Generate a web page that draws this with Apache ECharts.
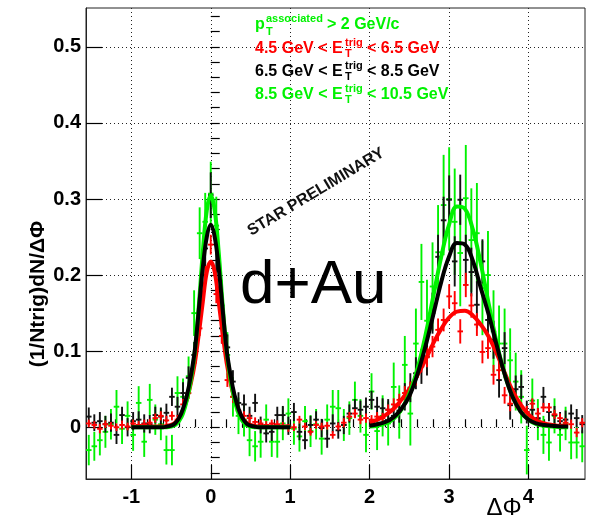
<!DOCTYPE html>
<html>
<head>
<meta charset="utf-8">
<script src="https://cdn.jsdelivr.net/npm/echarts@6/dist/echarts.min.js"></script>
<style>
html,body{margin:0;padding:0;background:#fff;}
#chart{width:590px;height:518px;}
</style>
</head>
<body>
<div id="chart"></div>
<script>
// ---------------- data ----------------
// Histogram: 90 bins over [-pi/2, 3pi/2]
const PHI_MIN = -Math.PI / 2;
const PHI_MAX = 3 * Math.PI / 2;
const N_BINS = 90;
const BIN_W = (PHI_MAX - PHI_MIN) / N_BINS;

// 4.5 < ET < 6.5 GeV (red)
const redValues = [
0.005,0.003,-0.002,0.004,0.002,0.000,0.003,0.001,0.005,0.003,0.004,0.006,0.012,0.015,0.009,
0.015,0.010,0.030,0.045,0.085,0.130,0.200,0.240,0.175,0.120,0.062,0.040,0.022,0.015,0.012,
0.007,0.005,0.003,0.005,0.004,0.002,-0.001,0.000,0.010,0.001,-0.006,0.003,0.001,0.002,-0.010,0.001,0.006,0.014,0.018,0.010,0.012,
0.010,0.014,0.012,0.023,0.030,0.036,0.045,0.050,0.066,0.084,
0.092,0.106,0.128,0.141,0.172,0.163,0.126,0.187,0.160,0.135,
0.099,0.104,0.069,0.075,0.042,0.031,0.035,0.025,0.020,0.031,
0.018,0.026,0.026,0.017,0.012,0.006,0.004,-0.007,0.006];
const redErrors = [
0.005,0.005,0.006,0.005,0.005,0.005,0.006,0.005,0.005,0.005,0.006,0.005,0.006,0.006,0.006,
0.006,0.006,0.007,0.008,0.009,0.010,0.012,0.013,0.012,0.010,0.009,0.008,0.007,0.006,0.006,
0.006,0.005,0.005,0.005,0.005,0.005,0.005,0.005,0.005,0.005,0.005,0.005,0.005,0.005,0.005,0.005,0.006,0.006,0.006,0.006,0.006,
0.006,0.006,0.007,0.007,0.008,0.008,0.009,0.010,0.011,0.012,
0.013,0.014,0.015,0.015,0.016,0.016,0.016,0.016,0.016,0.015,
0.015,0.014,0.013,0.012,0.011,0.010,0.009,0.008,0.008,0.007,
0.007,0.006,0.006,0.006,0.006,0.006,0.006,0.006,0.006];

// 6.5 < ET < 8.5 GeV (black)
const blackValues = [
0.014,0.006,0.008,0.004,0.006,-0.010,0.016,0.000,0.008,0.010,0.005,0.004,0.016,0.014,0.019,
0.040,0.027,0.045,0.065,0.095,0.150,0.235,0.305,0.205,0.130,0.105,0.060,0.032,0.030,0.015,
0.032,0.003,-0.008,-0.006,0.016,0.016,0.002,0.020,-0.006,-0.017,0.003,0.010,-0.001,-0.015,0.005,-0.004,0.003,0.018,0.025,0.023,0.027,
0.036,0.027,0.025,0.023,0.015,0.022,0.040,0.052,0.071,0.080,
0.093,0.150,0.224,0.272,0.299,0.218,0.299,0.220,0.204,0.161,
0.218,0.141,0.115,0.062,0.104,0.029,0.050,0.053,0.020,0.023,
0.012,0.040,0.020,0.016,0.008,0.010,0.018,0.012,0.004];
const blackErrors = [
0.012,0.011,0.012,0.011,0.012,0.012,0.011,0.012,0.012,0.011,0.012,0.012,0.011,0.012,0.012,
0.012,0.013,0.014,0.015,0.017,0.020,0.025,0.030,0.025,0.020,0.017,0.015,0.014,0.013,0.012,
0.012,0.011,0.012,0.012,0.011,0.012,0.012,0.012,0.011,0.012,0.012,0.011,0.012,0.012,0.012,0.011,0.012,0.012,0.012,0.012,0.012,
0.012,0.013,0.013,0.014,0.015,0.016,0.018,0.019,0.021,0.023,
0.025,0.027,0.029,0.031,0.032,0.033,0.033,0.033,0.032,0.031,
0.029,0.027,0.025,0.023,0.021,0.019,0.018,0.016,0.015,0.014,
0.013,0.013,0.012,0.012,0.012,0.012,0.012,0.012,0.012];

// 8.5 < ET < 10.5 GeV (green)
const greenValues = [
-0.030,-0.025,-0.017,-0.006,0.004,0.027,-0.002,0.015,-0.010,0.032,-0.019,0.036,0.010,0.004,-0.030,
-0.030,0.045,0.040,0.067,0.150,0.255,0.270,0.307,0.265,0.160,0.095,0.040,0.015,0.010,-0.017,
-0.025,-0.019,0.010,-0.019,-0.019,0.005,0.018,-0.002,-0.012,0.008,-0.005,0.004,-0.015,0.010,0.027,0.025,0.003,0.012,0.036,0.015,-0.010,
0.047,-0.005,0.015,0.005,0.053,0.020,0.082,0.018,0.110,0.191,
0.140,0.185,0.230,0.292,0.300,0.270,0.229,0.301,0.246,0.255,
0.183,0.200,0.126,0.110,0.110,0.088,0.060,0.040,-0.030,0.035,
0.010,-0.010,-0.020,0.015,-0.010,0.005,-0.020,-0.020,-0.025];
const greenErrors = [
0.020,0.019,0.020,0.021,0.020,0.022,0.020,0.019,0.021,0.022,0.020,0.021,0.020,0.021,0.019,
0.020,0.022,0.024,0.026,0.030,0.034,0.038,0.042,0.038,0.034,0.030,0.026,0.024,0.022,0.021,
0.020,0.021,0.020,0.020,0.021,0.022,0.020,0.021,0.020,0.020,0.021,0.020,0.021,0.020,0.022,0.024,0.021,0.022,0.024,0.022,0.023,
0.024,0.025,0.027,0.029,0.032,0.035,0.038,0.042,0.046,0.050,
0.054,0.058,0.062,0.066,0.068,0.070,0.070,0.070,0.068,0.066,
0.062,0.058,0.054,0.050,0.046,0.042,0.038,0.035,0.032,0.029,
0.027,0.025,0.024,0.023,0.022,0.022,0.022,0.021,0.021];

// Fit curves
const nearX = [-1,-0.9,-0.8,-0.7,-0.6,-0.55,-0.5,-0.45,-0.4,-0.35,-0.3,-0.25,-0.2,-0.15,-0.1,-0.05,0,
  0.05,0.1,0.15,0.2,0.25,0.3,0.35,0.4,0.45,0.5,0.55,0.6,0.7,0.8,0.9,1];
const redNear = [0.001,0.001,0.001,0.001,0.001,0.002,0.003,0.006,0.012,0.022,0.037,0.058,0.085,0.123,0.165,0.204,0.218,
  0.204,0.165,0.123,0.085,0.058,0.037,0.022,0.012,0.006,0.003,0.002,0.001,0.001,0.001,0.001,0.001];
const blackNear = [0,0,0,0,0,0.001,0.002,0.005,0.012,0.024,0.042,0.068,0.102,0.155,0.210,0.250,0.266,
  0.250,0.210,0.155,0.102,0.068,0.042,0.024,0.012,0.005,0.002,0.001,0,0,0,0,0];
const greenNear = [0,0,0,0,0,0,0.001,0.003,0.008,0.018,0.036,0.062,0.100,0.160,0.230,0.285,0.305,
  0.285,0.230,0.160,0.100,0.062,0.036,0.018,0.008,0.003,0.001,0,0,0,0,0,0];

const awayX = [2.0,2.1,2.2,2.3,2.4,2.5,2.6,2.7,2.8,2.9,3.0,3.1,3.2,3.3,3.4,3.5,3.6,3.7,3.8,3.9,4.0,4.1,4.2,4.3,4.4,4.5];
const redAway = [0.006,0.010,0.016,0.024,0.036,0.050,0.068,0.088,0.110,0.129,0.144,0.152,0.153,0.147,0.135,0.119,0.097,0.072,0.048,0.030,0.017,0.009,0.005,0.003,0.002,0.002];
const blackAway = [0.002,0.004,0.007,0.013,0.024,0.041,0.069,0.105,0.147,0.190,0.224,0.242,0.240,0.219,0.183,0.148,0.108,0.070,0.040,0.021,0.010,0.005,0.003,0.002,0.001,0.001];
const greenAway = [0.001,0.002,0.005,0.011,0.023,0.044,0.076,0.119,0.171,0.223,0.266,0.290,0.287,0.260,0.215,0.162,0.111,0.070,0.040,0.021,0.010,0.004,0.002,0.001,0.000,0.000];

const yMin = -0.068, yMax = 0.551;
const legendLines = ['> 2 GeV/c', '4.5 GeV < E', '< 6.5 GeV', '6.5 GeV < E', '< 8.5 GeV', '8.5 GeV < E', '< 10.5 GeV'];

// ---------------- build ----------------
const RED = '#ff0000', BLACK = '#000000', GREEN = '#00f200';
const FONT = '"Liberation Sans", Arial, Helvetica, sans-serif';

function hist(values, errors) {
  return values.map((v, i) => [PHI_MIN + (i + 0.5) * BIN_W, v, errors[i]]);
}
function pairs(xs, ys) { return xs.map((x, i) => [x, ys[i]]); }

function crossRender(color) {
  return function (params, api) {
    const x = api.value(0), y = api.value(1), e = api.value(2);
    const c = api.coord([x, y]);
    const t = api.coord([x, y + e]);
    const b = api.coord([x, y - e]);
    const hw = api.size([BIN_W, 0])[0] / 2;
    return {
      type: 'group',
      children: [
        { type: 'line', shape: { x1: c[0], y1: t[1], x2: c[0], y2: b[1] }, style: { stroke: color, lineWidth: 1.9 } },
        { type: 'line', shape: { x1: c[0] - hw, y1: c[1], x2: c[0] + hw, y2: c[1] }, style: { stroke: color, lineWidth: 1.9 } }
      ]
    };
  };
}

// grid geometry
const GL = 86, GT = 8, GW = 499, GH = 471;
const pxPerX = GW / (PHI_MAX - PHI_MIN);
const pxPerY = GH / (yMax - yMin);
const mx0 = -1.4, mx1 = 4.6, my0 = -0.06, my1 = 0.54;

const chart = echarts.init(document.getElementById('chart'), null, { renderer: 'canvas' });

const dotted = { color: '#222', width: 1, type: [1, 3] };

function curve(data, color, z) {
  return { type: 'line', data: data, showSymbol: false, symbol: 'none', smooth: 0.4,
    lineStyle: { color: color, width: 4 }, z: z, silent: true, animation: false, clip: true };
}
function crosses(data, color, z) {
  return { type: 'custom', data: data, renderItem: crossRender(color), z: z, clip: true, animation: false, silent: true,
    encode: { x: 0, y: 1 } };
}

const option = {
  animation: false,
  backgroundColor: '#ffffff',
  grid: [
    { left: GL, top: GT, width: GW, height: GH, show: true, borderColor: '#222', borderWidth: 1, outerBoundsMode: 'none', containLabel: false },
    { left: GL + (mx0 - PHI_MIN) * pxPerX, top: GT, width: (mx1 - mx0) * pxPerX, height: GH, outerBoundsMode: 'none', containLabel: false },
    { left: GL, top: GT + (yMax - my1) * pxPerY, width: GW, height: (my1 - my0) * pxPerY, outerBoundsMode: 'none', containLabel: false }
  ],
  xAxis: [
    { gridIndex: 0, type: 'value', min: PHI_MIN, max: PHI_MAX, splitNumber: 5,
      axisLine: { show: true, onZero: false, lineStyle: { color: '#222' } },
      axisTick: { show: true, inside: true, length: 14, lineStyle: { color: '#000', width: 1.2 } },
      minorTick: { show: false },
      axisLabel: { show: true, showMinLabel: false, showMaxLabel: false, margin: 8, color: '#000',
        fontSize: 20, fontWeight: 'bold', fontFamily: FONT,
        formatter: v => Math.abs(v - Math.round(v)) < 1e-6 ? String(Math.round(v)) : '' },
      splitLine: { show: true, showMinLine: false, showMaxLine: false, lineStyle: dotted } },
    { gridIndex: 1, type: 'value', min: mx0, max: mx1, interval: 0.2,
      axisLine: { show: false }, axisLabel: { show: false }, splitLine: { show: false },
      axisTick: { show: true, inside: true, length: 8, lineStyle: { color: '#000', width: 1.2 } } },
    { gridIndex: 2, type: 'value', min: PHI_MIN, max: PHI_MAX, show: false }
  ],
  yAxis: [
    { gridIndex: 0, type: 'value', min: yMin, max: yMax, splitNumber: 5,
      axisLine: { show: true, onZero: false, lineStyle: { color: '#222' } },
      axisTick: { show: true, inside: true, length: 16, lineStyle: { color: '#000', width: 1.2 } },
      minorTick: { show: false },
      axisLabel: { show: true, showMinLabel: false, showMaxLabel: false, margin: 5, color: '#000',
        fontSize: 20, fontWeight: 'bold', fontFamily: FONT,
        formatter: v => { const r = Math.round(v * 10) / 10; if (Math.abs(v - r) > 1e-6) return ''; return r === 0 ? '0' : r.toFixed(1); } },
      splitLine: { show: true, showMinLine: false, showMaxLine: false, lineStyle: dotted } },
    { gridIndex: 1, type: 'value', min: yMin, max: yMax, show: false },
    { gridIndex: 2, type: 'value', min: my0, max: my1, interval: 0.02,
      axisLine: { show: false }, axisLabel: { show: false }, splitLine: { show: false },
      axisTick: { show: true, inside: true, length: 9, lineStyle: { color: '#000', width: 1.2 } } }
  ],
  series: [
    crosses(hist(greenValues, greenErrors), GREEN, 2),
    crosses(hist(blackValues, blackErrors), '#111', 3),
    crosses(hist(redValues, redErrors), RED, 4),
    curve(pairs(nearX, redNear), RED, 5),
    curve(pairs(awayX, redAway), RED, 5),
    curve(pairs(nearX, greenNear), GREEN, 6),
    curve(pairs(awayX, greenAway), GREEN, 6),
    curve(pairs(nearX, blackNear), BLACK, 7),
    curve(pairs(awayX, blackAway), BLACK, 7)
  ],
  graphic: { elements: [
    // header text
    { type: 'text', x: 255, y: 25, z: 100, style: { text: 'p', fill: GREEN, font: 'bold 16px ' + FONT, align: 'left', verticalAlign: 'middle' } },
    { type: 'text', x: 266, y: 19, z: 100, style: { text: 'associated', fill: GREEN, font: 'bold 11px ' + FONT, align: 'left', verticalAlign: 'middle' } },
    { type: 'text', x: 266, y: 32, z: 100, style: { text: 'T', fill: GREEN, font: 'bold 11px ' + FONT, align: 'left', verticalAlign: 'middle' } },
    { type: 'text', x: 327, y: 25, z: 100, style: { text: legendLines[0], fill: GREEN, font: 'bold 16px ' + FONT, align: 'left', verticalAlign: 'middle' } },

    { type: 'text', x: 255, y: 49, z: 100, style: { text: legendLines[1], fill: RED, font: 'bold 16px ' + FONT, align: 'left', verticalAlign: 'middle' } },
    { type: 'text', x: 345, y: 43, z: 100, style: { text: 'trig', fill: RED, font: 'bold 11px ' + FONT, align: 'left', verticalAlign: 'middle' } },
    { type: 'text', x: 345, y: 54, z: 100, style: { text: 'T', fill: RED, font: 'bold 11px ' + FONT, align: 'left', verticalAlign: 'middle' } },
    { type: 'text', x: 367, y: 49, z: 100, style: { text: legendLines[2], fill: RED, font: 'bold 16px ' + FONT, align: 'left', verticalAlign: 'middle' } },

    { type: 'text', x: 255, y: 72, z: 100, style: { text: legendLines[3], fill: BLACK, font: 'bold 16px ' + FONT, align: 'left', verticalAlign: 'middle' } },
    { type: 'text', x: 345, y: 66, z: 100, style: { text: 'trig', fill: BLACK, font: 'bold 11px ' + FONT, align: 'left', verticalAlign: 'middle' } },
    { type: 'text', x: 345, y: 77, z: 100, style: { text: 'T', fill: BLACK, font: 'bold 11px ' + FONT, align: 'left', verticalAlign: 'middle' } },
    { type: 'text', x: 367, y: 72, z: 100, style: { text: legendLines[4], fill: BLACK, font: 'bold 16px ' + FONT, align: 'left', verticalAlign: 'middle' } },

    { type: 'text', x: 255, y: 95, z: 100, style: { text: legendLines[5], fill: GREEN, font: 'bold 16px ' + FONT, align: 'left', verticalAlign: 'middle' } },
    { type: 'text', x: 345, y: 89, z: 100, style: { text: 'trig', fill: GREEN, font: 'bold 11px ' + FONT, align: 'left', verticalAlign: 'middle' } },
    { type: 'text', x: 345, y: 100, z: 100, style: { text: 'T', fill: GREEN, font: 'bold 11px ' + FONT, align: 'left', verticalAlign: 'middle' } },
    { type: 'text', x: 367, y: 95, z: 100, style: { text: legendLines[6], fill: GREEN, font: 'bold 16px ' + FONT, align: 'left', verticalAlign: 'middle' } },

    // STAR PRELIMINARY
    { type: 'text', x: 316, y: 192, rotation: 31 * Math.PI / 180, z: 100,
      style: { text: 'STAR PRELIMINARY', fill: '#111', font: 'bold 16px ' + FONT, align: 'center', verticalAlign: 'middle' } },
    // d+Au
    { type: 'text', x: 240, y: 286, z: 100,
      style: { text: 'd+Au', fill: '#000', font: '62px ' + FONT, align: 'left', verticalAlign: 'middle' } },
    // axis titles
    { type: 'text', x: 38, y: 294, rotation: Math.PI / 2, z: 100,
      style: { text: '(1/Ntrig)dN/\u0394\u03A6', fill: '#000', font: 'bold 21px ' + FONT, align: 'center', verticalAlign: 'middle' } },
    { type: 'text', x: 504, y: 508, z: 100,
      style: { text: '\u0394\u03A6', fill: '#000', font: '24px ' + FONT, align: 'center', verticalAlign: 'middle' } }
  ] }
};
chart.setOption(option);
</script>
</body>
</html>
